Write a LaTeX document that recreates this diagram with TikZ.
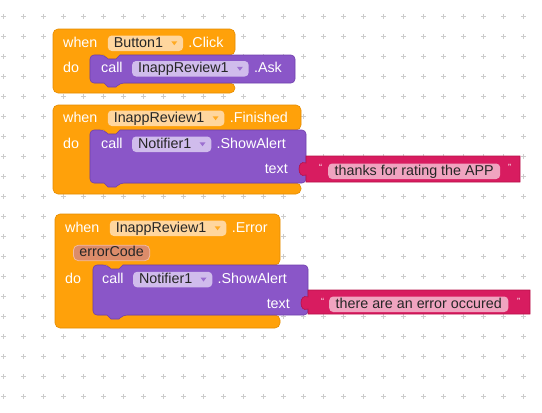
\documentclass[tikz,border=0pt]{standalone}
\usepackage{fontspec}
\setmainfont{Liberation Sans}
\definecolor{aiorange}{RGB}{255,161,10}
\definecolor{aiorangeline}{RGB}{228,140,0}
\definecolor{aiorangefld}{RGB}{255,214,158}
\definecolor{aipurple}{RGB}{138,86,200}
\definecolor{aipurpleline}{RGB}{112,64,172}
\definecolor{aipurplefld}{RGB}{208,188,236}
\definecolor{aipink}{RGB}{216,28,96}
\definecolor{aipinkline}{RGB}{182,16,72}
\definecolor{aipinkfld}{RGB}{240,164,192}
\definecolor{aisalmon}{RGB}{220,140,106}
\definecolor{aisalmonline}{RGB}{242,186,160}
\definecolor{aigrid}{RGB}{204,204,204}
\usetikzlibrary{positioning}

\begin{document}
\begin{tikzpicture}[x=1pt, y=-1pt, every node/.style={font=\fontsize{14.3}{16}\selectfont, inner sep=0pt},
  kw/.style={text=white, anchor=base west},
  fld/.style={rounded corners=4pt, inner xsep=6pt, inner ysep=1pt, text height=10.5pt, text depth=3pt, text=black!85, anchor=base west},
  ev/.style={fill=aiorange, draw=aiorangeline, line width=0.6pt, rounded corners=5pt},
  stm/.style={fill=aipurple, draw=aipurpleline, line width=0.6pt, rounded corners=4pt},
  txt/.style={fill=aipink, draw=aipinkline, line width=0.6pt},
  qt/.style={text=white, font=\fontsize{9}{9}\selectfont, anchor=base west},
  gridplus/.style={draw=aigrid, line width=0.8pt}]
\useasboundingbox (0,0) rectangle (542,413);
% Grid
\foreach \i in {0,...,26} \foreach \j in {0,...,19}
  \draw[gridplus] (\i*20+1,\j*20+16.7) -- ++(5,0) (\i*20+3.5,\j*20+14.2) -- ++(0,5);

% Button1.Click
\draw[ev] (53,29) -- (235,29) -- (235,55) [sharp corners] -- (120,55) -- (116,59) -- (108,59) -- (104,55) [rounded corners=5pt] -- (90,55) -- (90,83) -- (235,83) -- (235,93) -- (53,93) -- cycle;
\draw[stm] (90,55) -- (104,55) [sharp corners] -- (108,59) -- (116,59) -- (120,55) [rounded corners=4pt] -- (295,55) -- (295,83) -- (120,83) [sharp corners] -- (116,87) -- (108,87) -- (104,83) [rounded corners=4pt] -- (90,83) -- cycle;
\node[kw] (when1) at (63,47) {when};
\node[fld, fill=aiorangefld, base right=10pt of when1] (btn1) {Button1\kern14pt};
\node[kw, base right=5pt of btn1] (click1) {.Click};
\node[kw] (do1) at (63,72) {do};
\node[kw] (call1) at (101,72.5) {call};
\node[fld, fill=aipurplefld, base right=9pt of call1] (rev1) {InappReview1\kern14pt};
\node[kw, base right=5pt of rev1] (ask1) {.Ask};
\fill[aiorange!90!white] ([xshift=-12pt,yshift=2pt]btn1.east) -- ++(6,0) -- ++(-3,4) -- cycle;
\fill[aipurple!85!white] ([xshift=-12pt,yshift=2pt]rev1.east) -- ++(6,0) -- ++(-3,4) -- cycle;

% InappReview1.Finished
\draw[ev] (53,105) -- (301,105) -- (301,130) [sharp corners] -- (120,130) -- (116,134) -- (108,134) -- (104,130) [rounded corners=5pt] -- (90,130) -- (90,183) -- (301,183) -- (301,194) -- (53,194) -- cycle;
\draw[stm] (90,130) -- (104,130) [sharp corners] -- (108,134) -- (116,134) -- (120,130) [rounded corners=4pt] -- (306,130) -- (306,183) -- (120,183) [sharp corners] -- (116,187) -- (108,187) -- (104,183) [rounded corners=4pt] -- (90,183) -- cycle;
\node[kw] (when2) at (63,122) {when};
\node[fld, fill=aiorangefld, base right=10pt of when2] (rev2) {InappReview1\kern14pt};
\node[kw, base right=5pt of rev2] (fin2) {.Finished};
\node[kw] (do2) at (63,148) {do};
\node[kw] (call2) at (101,148) {call};
\node[fld, fill=aipurplefld, base right=9pt of call2] (not2) {Notifier1\kern14pt};
\node[kw, base right=5pt of not2] (show2) {.ShowAlert};
\node[kw, anchor=base east] (text2) at (288,173) {text};
\fill[aiorange!90!white] ([xshift=-12pt,yshift=2pt]rev2.east) -- ++(6,0) -- ++(-3,4) -- cycle;
\fill[aipurple!85!white] ([xshift=-12pt,yshift=2pt]not2.east) -- ++(6,0) -- ++(-3,4) -- cycle;
\draw[txt] (306,156) -- (520,156) -- (520,182) -- (306,182) -- (306,175) .. controls (301,177) and (299,173) .. (299,169) .. controls (299,165) and (301,161) .. (306,163) -- cycle;
\node[qt] (lq2) at (319,170) {“};
\node[fld, fill=aipinkfld, inner xsep=6.5pt] (msg2) at (328,175) {thanks for rating the APP};
\node[qt] (rq2) at (508,170) {”};

% InappReview1.Error
\draw[ev] (55,214) -- (280,214) -- (280,265) [sharp corners] -- (123,265) -- (119,269) -- (111,269) -- (107,265) [rounded corners=5pt] -- (93,265) -- (93,315) -- (280,315) -- (280,328) -- (55,328) -- cycle;
\draw[stm] (93,265) -- (107,265) [sharp corners] -- (111,269) -- (119,269) -- (123,265) [rounded corners=4pt] -- (308,265) -- (308,315) -- (123,315) [sharp corners] -- (119,319) -- (111,319) -- (107,315) [rounded corners=4pt] -- (93,315) -- cycle;
\node[kw] (when3) at (65,232) {when};
\node[fld, fill=aiorangefld, base right=10pt of when3] (rev3) {InappReview1\kern14pt};
\node[kw, base right=5pt of rev3] (err3) {.Error};
\node[fld, fill=aisalmon, draw=aisalmonline, line width=0.8pt, rounded corners=5pt] (code3) at (73,256.7) {errorCode};
\node[kw] (do3) at (65,283) {do};
\node[kw] (call3) at (102,283.3) {call};
\node[fld, fill=aipurplefld, base right=9pt of call3] (not3) {Notifier1\kern14pt};
\node[kw, base right=5pt of not3] (show3) {.ShowAlert};
\node[kw, anchor=base east] (text3) at (290,308) {text};
\fill[aiorange!90!white] ([xshift=-12pt,yshift=2pt]rev3.east) -- ++(6,0) -- ++(-3,4) -- cycle;
\fill[aipurple!85!white] ([xshift=-12pt,yshift=2pt]not3.east) -- ++(6,0) -- ++(-3,4) -- cycle;
\draw[txt] (308,290) -- (530,290) -- (530,314) -- (308,314) -- (308,309) .. controls (303,311) and (301,307) .. (301,303) .. controls (301,299) and (303,295) .. (308,297) -- cycle;
\node[qt] (lq3) at (321,304) {“};
\node[fld, fill=aipinkfld, inner xsep=6.5pt] (msg3) at (329,308) {there are an error occured};
\node[qt] (rq3) at (517,304) {”};
\end{tikzpicture}
\end{document}
